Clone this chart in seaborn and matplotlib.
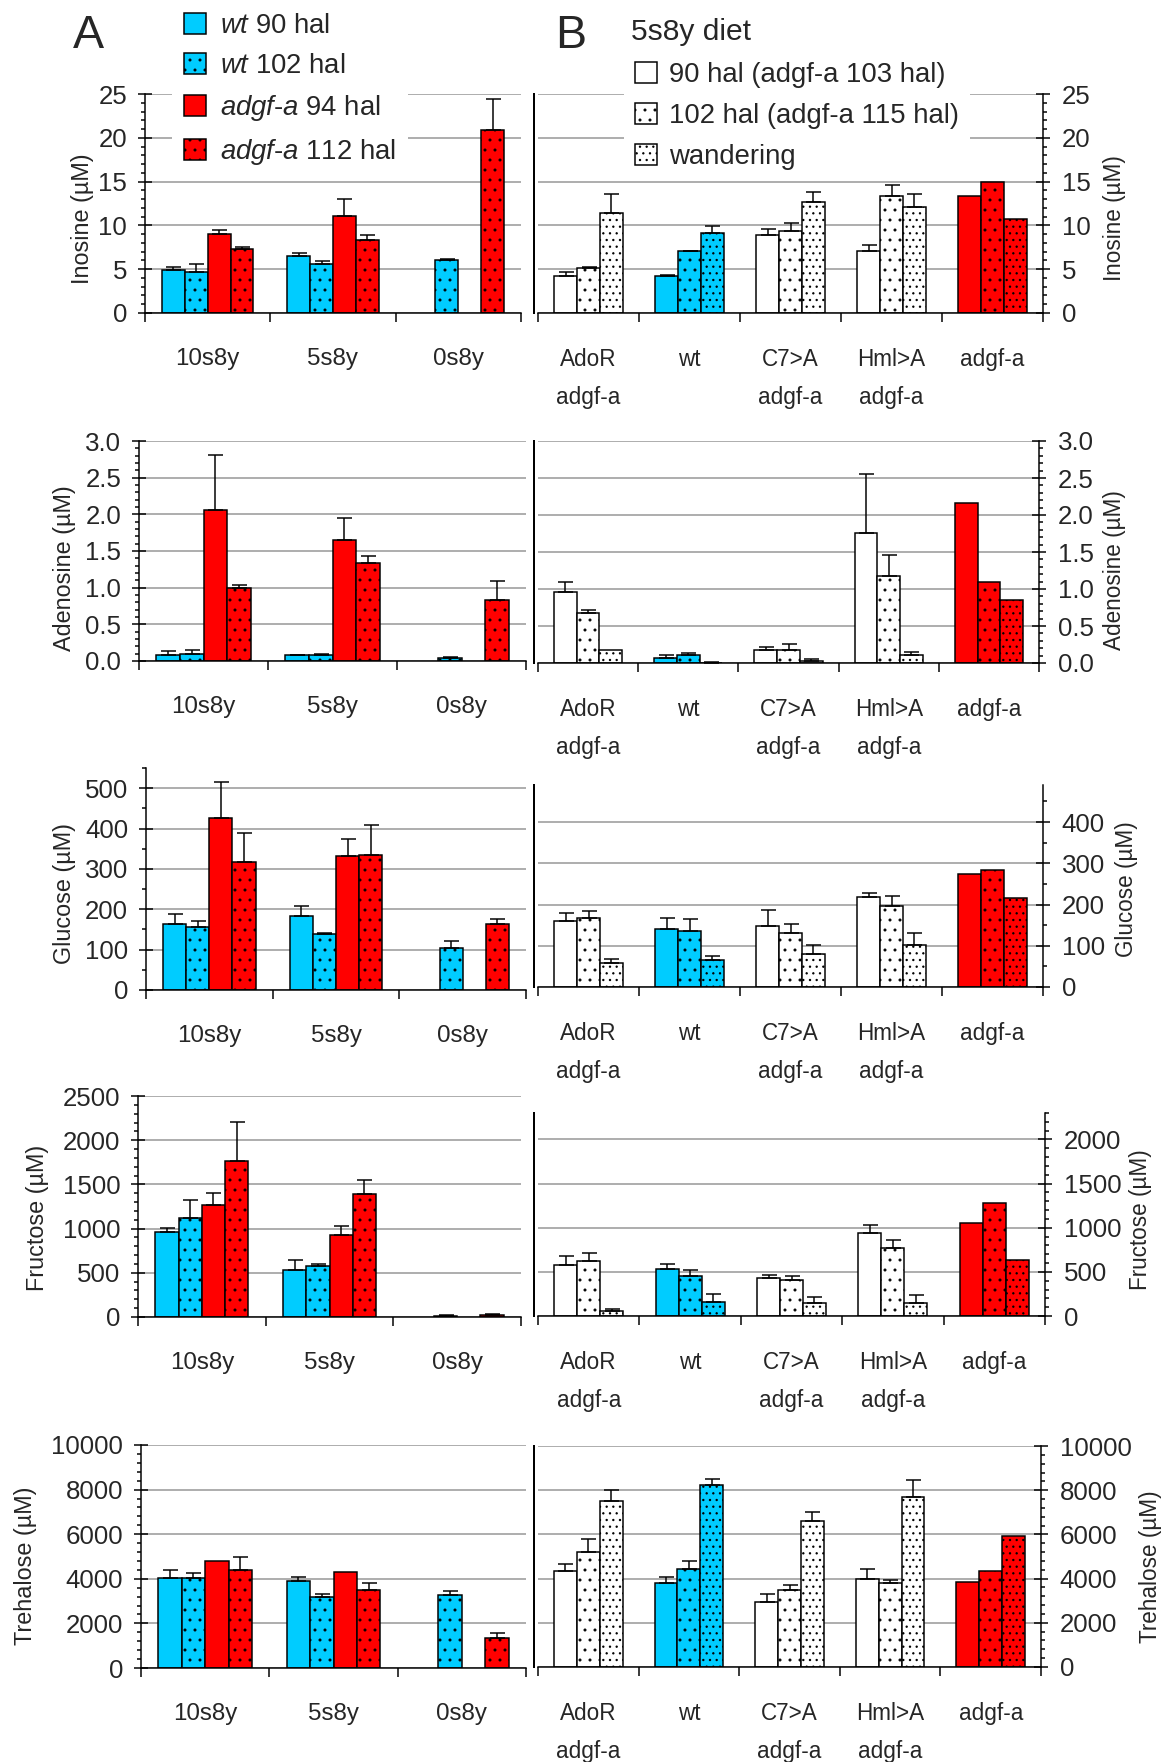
import numpy as np
import pandas as pd
import matplotlib
matplotlib.use('Agg')
import matplotlib.pyplot as plt
import seaborn as sns
from matplotlib.patches import Patch
from matplotlib.ticker import MultipleLocator, FormatStrFormatter

sns.set_theme(style='ticks')
REG = 'Liberation Sans'
plt.rcParams['font.family'] = [REG, 'DejaVu Sans']
plt.rcParams['mathtext.fontset'] = 'custom'
plt.rcParams['mathtext.rm'] = REG
plt.rcParams['mathtext.it'] = REG + ':italic'
plt.rcParams['hatch.linewidth'] = 0.6

nan = np.nan
CYAN = '#00CCFF'
RED = '#FF0000'

# ---------------- data ----------------
diets = ['10s8y', '5s8y', '0s8y']
stages_A = ['wt 90 hal', 'wt 102 hal', 'adgf-a 94 hal', 'adgf-a 112 hal']
genotypes_B = ['AdoR\nadgf-a', 'wt', 'C7>A\nadgf-a', 'Hml>A\nadgf-a', 'adgf-a']
stages_B = ['90 hal (adgf-a 103 hal)', '102 hal (adgf-a 115 hal)', 'wandering']

inosine_A = [[4.9, 4.7, 9.0, 7.25], [6.5, 5.6, 11.1, 8.3], [nan, 6.0, nan, 20.9]]
inosine_A_err = [[0.3, 0.9, 0.5, 0.3], [0.35, 0.35, 1.9, 0.57], [nan, 0.15, nan, 3.5]]
inosine_B = [[4.2, 5.1, 11.4], [4.2, 7.05, 9.1], [8.85, 9.4, 12.65], [7.05, 13.35, 12.1], [13.35, 15.0, 10.7]]
inosine_B_err = [[0.5, 0.15, 2.2], [0.15, 0.05, 0.8], [0.7, 0.85, 1.2], [0.7, 1.25, 1.5], [nan, nan, nan]]

adenosine_A = [[0.08, 0.10, 2.06, 1.0], [0.08, 0.08, 1.65, 1.33], [nan, 0.04, nan, 0.83]]
adenosine_A_err = [[0.05, 0.05, 0.75, 0.04], [0.005, 0.02, 0.3, 0.1], [nan, 0.02, nan, 0.26]]
adenosine_B = [[0.965, 0.67, 0.175], [0.065, 0.11, 0.005], [0.175, 0.178, 0.03], [1.755, 1.18, 0.11], [2.165, 1.09, 0.855]]
adenosine_B_err = [[0.125, 0.04, nan], [0.045, 0.02, 0.015], [0.04, 0.085, 0.02], [0.8, 0.28, 0.045], [nan, nan, nan]]

glucose_A = [[164, 155, 425, 316], [183, 139, 331, 335], [nan, 105, nan, 164]]
glucose_A_err = [[24, 16, 90, 74], [24, 2, 44, 75], [nan, 16, nan, 12]]
glucose_B = [[160, 168, 59], [140, 137, 66], [149, 130, 79], [219, 196, 102], [273, 284, 216]]
glucose_B_err = [[20, 16, 8], [28, 28, 8], [38, 23, 23], [8, 24, 28], [nan, nan, nan]]

fructose_A = [[958, 1124, 1263, 1768], [532, 577, 924, 1391], [nan, 12, nan, 18]]
fructose_A_err = [[45, 196, 143, 441], [109, 26, 109, 162], [nan, 5, nan, 20]]
fructose_B = [[573, 622, 53], [535, 448, 163], [425, 410, 144], [945, 767, 144], [1055, 1279, 630]]
fructose_B_err = [[110, 95, 23], [57, 68, 91], [38, 38, 72], [91, 91, 91], [nan, nan, nan]]

trehalose_A = [[4030, 4040, 4805, 4390], [3890, 3190, 4310, 3490], [nan, 3290, nan, 1350]]
trehalose_A_err = [[360, 210, nan, 580], [210, 150, nan, 330], [nan, 165, nan, 225]]
trehalose_B = [[4350, 5210, 7500], [3790, 4450, 8255], [2920, 3500, 6590], [4000, 3790, 7710], [3850, 4360, 5950]]
trehalose_B_err = [[290, 580, 500], [290, 350, 260], [365, 230, 425], [440, 150, 730], [nan, nan, nan]]

ylabels = ['Inosine (µM)', 'Adenosine (µM)', 'Glucose (µM)', 'Fructose (µM)', 'Trehalose (µM)']
ylim_A = [25, 3.0, 550, 2500, 10000]
ylim_B = [25, 3.0, 490, 2300, 10000]
major_step = [5, 0.5, 100, 500, 2000]
minor_step = [1, 0.1, 50, 100, 400]
tick_fmt = ['%d', '%.1f', '%d', '%d', '%d']

legend_A = [r'$\it{wt}$ 90 hal', r'$\it{wt}$ 102 hal', r'$\it{adgf}$-$\it{a}$ 94 hal', r'$\it{adgf}$-$\it{a}$ 112 hal']
colors_A = [CYAN, CYAN, RED, RED]
hatch_A = ['', '..', '', '..']
hatch_B = ['', '..', '...']
colors_B = {'wt': CYAN, 'adgf-a': RED}

data_A = [(inosine_A, inosine_A_err), (adenosine_A, adenosine_A_err), (glucose_A, glucose_A_err),
          (fructose_A, fructose_A_err), (trehalose_A, trehalose_A_err)]
data_B = [(inosine_B, inosine_B_err), (adenosine_B, adenosine_B_err), (glucose_B, glucose_B_err),
          (fructose_B, fructose_B_err), (trehalose_B, trehalose_B_err)]

# ---------------- layout (pixels) ----------------
W, H, DPI = 1174, 1762, 120
A_left = [145, 139, 146, 138, 141]
A_right = [521, 526, 526, 521, 526]
A_top = [94, 441, 768, 1096, 1445]
A_bot = [313, 661, 990, 1317, 1668]
B_left = [538, 538, 538, 538, 538]
B_right = [1043, 1039, 1043, 1045, 1041]
B_top = [94, 441, 785, 1113, 1446]
B_bot = [313, 663, 987, 1316, 1667]
A_lab = [(82, 219), (65, 568), (65, 893), (38, 1218), (26, 1566)]
B_lab = [(1114, 218), (1114, 570), (1127, 889), (1140, 1220), (1151, 1567)]

fig = plt.figure(figsize=(W / DPI, H / DPI), dpi=DPI)


def add_ax(l, r, t, b):
    return fig.add_axes([l / W, 1 - b / H, (r - l) / W, (b - t) / H])


def draw_bars(ax, values, errors, groups, stages, width, face, hatches):
    recs = []
    for gi, g in enumerate(groups):
        for si, s in enumerate(stages):
            v = values[gi][si]
            if not np.isnan(v):
                recs.append(dict(group=g, stage=s, value=v))
    df = pd.DataFrame(recs)
    sns.barplot(data=df, x='group', y='value', hue='stage', order=groups, hue_order=stages,
                width=width, dodge=True, errorbar=None, legend=False, ax=ax,
                palette=['white'] * len(stages), saturation=1, edgecolor='black', linewidth=0.9)
    n = len(stages)
    for p in list(ax.patches):
        xc = p.get_x() + p.get_width() / 2
        gi = int(round(xc))
        si = int(round((xc - gi + width / 2) / (width / n) - 0.5))
        p.set_facecolor(face(gi, si))
        p.set_hatch(hatches[si])
        e = errors[gi][si]
        if not np.isnan(e):
            ax.errorbar(xc, p.get_height(), yerr=[[0], [e]], fmt='none', ecolor='black',
                        elinewidth=0.9, capsize=4.5, capthick=0.9, zorder=3)


def style(ax, n, labels, top, i, side, xsize, lsp):
    ax.set_xlim(-0.5, n - 0.5)
    ax.set_ylim(0, top)
    ax.set_xlabel('')
    ax.set_xticks(np.arange(n + 1) - 0.5)
    ax.set_xticklabels([])
    ax.set_xticks(np.arange(n), minor=True)
    ax.set_xticklabels(labels, minor=True, fontsize=xsize, linespacing=lsp)
    ax.tick_params(axis='x', which='major', direction='out', length=5.6, width=0.9,
                   color='black', bottom=True, top=False)
    ax.tick_params(axis='x', which='minor', length=0, pad=21, bottom=True, top=False)
    ax.yaxis.set_major_locator(MultipleLocator(major_step[i]))
    ax.yaxis.set_minor_locator(MultipleLocator(minor_step[i]))
    ax.yaxis.set_major_formatter(FormatStrFormatter(tick_fmt[i]))
    ax.yaxis.grid(True, which='major', color='#a0a0a0', linewidth=1.0)
    ax.set_axisbelow(True)
    for s in ax.spines.values():
        s.set_color('black')
        s.set_linewidth(0.9)
    ax.spines['top'].set_visible(False)
    if side == 'left':
        ax.spines['right'].set_visible(False)
        ax.tick_params(axis='y', which='both', left=True, right=False, labelleft=True, labelright=False)
        pad = 6.5
    else:
        ax.yaxis.tick_right()
        ax.yaxis.set_label_position('right')
        ax.tick_params(axis='y', which='both', left=False, right=True, labelleft=False, labelright=True)
        ax.spines['left'].set_position(('outward', 2.4))
        ax.spines['left'].set_bounds(0, top)
        ax.spines['left'].set_linewidth(1.2)
        pad = 7
    ax.tick_params(axis='y', which='major', direction='inout', length=8.4, width=0.9, color='black',
                   pad=pad, labelsize=15.5)
    ax.tick_params(axis='y', which='minor', direction='out', length=2.5, width=0.9, color='black')


for i in range(5):
    axA = add_ax(A_left[i], A_right[i], A_top[i], A_bot[i])
    vals, errs = data_A[i]
    draw_bars(axA, vals, errs, diets, stages_A, 0.73, lambda g, s: colors_A[s], hatch_A)
    style(axA, 3, diets, ylim_A[i], i, 'left', 14.5, 1.2)
    axA.set_ylabel(ylabels[i], fontsize=14)
    axA.yaxis.set_label_coords(A_lab[i][0] / W, 1 - A_lab[i][1] / H, transform=fig.transFigure)
    axA.yaxis.label.set_va('center')

    axB = add_ax(B_left[i], B_right[i], B_top[i], B_bot[i])
    vals, errs = data_B[i]
    draw_bars(axB, vals, errs, genotypes_B, stages_B, 0.68,
              lambda g, s: colors_B.get(genotypes_B[g], 'white'), hatch_B)
    style(axB, 5, genotypes_B, ylim_B[i], i, 'right', 13.5, 1.85)
    axB.set_ylabel(ylabels[i], fontsize=13.5)
    axB.yaxis.set_label_coords(B_lab[i][0] / W, 1 - B_lab[i][1] / H, transform=fig.transFigure)
    axB.yaxis.label.set_va('center')

    if i == 0:
        hA = [Patch(facecolor=c, edgecolor='black', hatch=h, linewidth=0.9) for c, h in zip(colors_A, hatch_A)]
        axA.legend(hA, legend_A, loc='upper left', bbox_to_anchor=(172 / W, 1 - 1 / H),
                   bbox_transform=fig.transFigure, fontsize=16.5, frameon=True, fancybox=False,
                   facecolor='white', edgecolor='none', framealpha=1, borderpad=0.45,
                   handlelength=0.8, handleheight=0.8, handletextpad=0.5, labelspacing=0.5,
                   borderaxespad=0)
        hB = [Patch(facecolor='white', edgecolor='black', hatch=h, linewidth=0.9) for h in hatch_B]
        axB.legend(hB, stages_B, loc='upper left', bbox_to_anchor=(624 / W, 1 - 51 / H),
                   bbox_transform=fig.transFigure, fontsize=16.5, frameon=True, fancybox=False,
                   facecolor='white', edgecolor='none', framealpha=1, borderpad=0.4,
                   handlelength=0.8, handleheight=0.8, handletextpad=0.45, labelspacing=0.55,
                   borderaxespad=0)

fig.text(73 / W, 1 - 36 / H, 'A', fontsize=28, va='center', ha='left')
fig.text(555 / W, 1 - 36 / H, 'B', fontsize=28, va='center', ha='left')
fig.text(631 / W, 1 - 32 / H, '5s8y diet', fontsize=18, va='center', ha='left')

fig.savefig('out.png', dpi=DPI)
